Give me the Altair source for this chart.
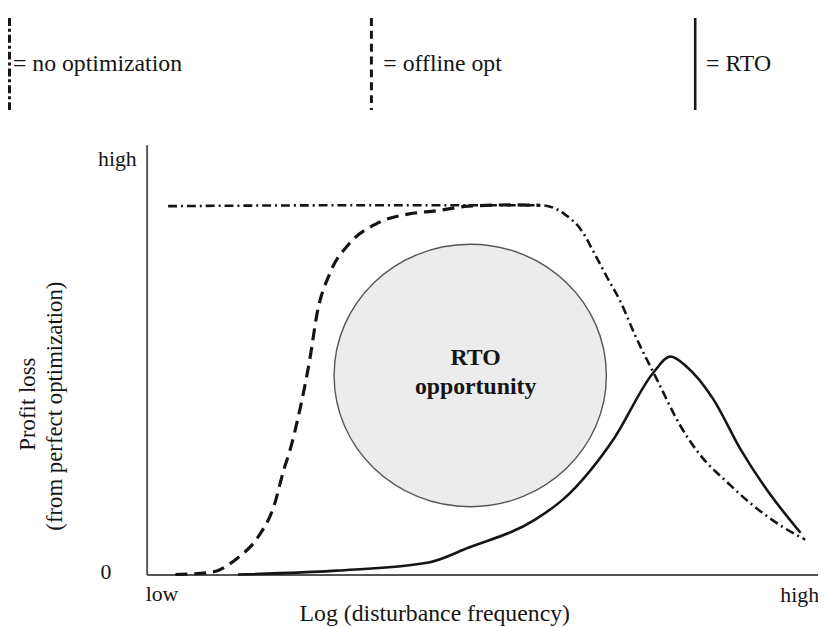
import altair as alt
import pandas as pd

# ---- data (x: log disturbance frequency 0..100, y: profit loss 0..100) ----
noopt_x = [3.2, 30.0, 50.0, 58.9, 62.2, 64.8, 66.7, 68.6, 70.7, 72.6, 76.0, 79.5, 82.5, 86.3, 90.3, 94.3, 98.1]
noopt_y = [85.7, 85.9, 85.9, 85.9, 83.9, 80.0, 74.7, 69.1, 63.1, 56.2, 45.4, 34.6, 27.7, 21.7, 16.1, 11.5, 8.1]

offline_x = [4.3, 9.6, 13.6, 16.5, 19.0, 20.5, 21.2, 22.9, 24.3, 25.4, 27.3, 30.2, 34.2, 39.1, 43.1, 47.9, 54.9, 58.6]
offline_y = [0.0, 0.5, 3.9, 8.5, 16.1, 24.7, 28.1, 38.9, 50.0, 60.8, 70.1, 77.0, 81.6, 83.9, 84.6, 85.7, 86.0, 85.9]

rto_x = [13.6, 28.3, 42.0, 47.9, 57.8, 62.2, 69.6, 75.5, 78.0, 80.4, 84.4, 88.4, 92.2, 97.4]
rto_y = [0.0, 0.9, 2.8, 6.2, 12.7, 17.7, 31.6, 47.0, 50.7, 48.4, 40.8, 29.3, 20.1, 9.7]

circle_x = [48.2]
circle_y = [46.3]
circle_label = ["RTO", "opportunity"]
circle_label_x = [49.0, 49.0]
circle_label_y = [50.4, 43.6]

legend_labels = ["= no optimization", "= offline opt", "= RTO"]
axis_labels = {"y_high": "high", "y_zero": "0", "x_low": "low", "x_high": "high"}
x_title = "Log (disturbance frequency)"
y_title = ["Profit loss", "(from perfect optimization)"]

FONT = "Liberation Serif"
INK = "#151515"
FS = 24

W, H = 678, 434
xs = alt.Scale(domain=[0, 100], nice=False, zero=False)
ys = alt.Scale(domain=[0, 100], nice=False, zero=False)
ax = alt.Axis(labels=False, ticks=False, grid=False, domainColor="#555555", domainWidth=2)

one = pd.DataFrame({"k": [0]})

def enc(ch):
    return ch.encode(x=alt.X("x:Q", scale=xs, axis=ax, title=""),
                     y=alt.Y("y:Q", scale=ys, axis=ax, title=""))

def curve(xv, yv, dash, width):
    df = pd.DataFrame({"x": xv, "y": yv})
    kw = dict(interpolate="monotone", color=INK, strokeWidth=width)
    if dash:
        kw["strokeDash"] = dash
    return enc(alt.Chart(df).mark_line(**kw))

ELLIPSE = "M -1 0 A 1 0.964 0 1 0 1 0 A 1 0.964 0 1 0 -1 0 Z"
circle = enc(alt.Chart(pd.DataFrame({"x": circle_x, "y": circle_y})).mark_point(
    shape=ELLIPSE, size=75625, fill="#ececec", stroke="#555555", strokeWidth=1.4,
    fillOpacity=1, strokeOpacity=1, opacity=1
))

circle_text = alt.Chart(pd.DataFrame({"x": circle_label_x, "y": circle_label_y,
                                      "t": circle_label})).mark_text(
    font=FONT, fontSize=24, fontWeight="bold", color=INK, align="center", baseline="middle"
).encode(x=alt.X("x:Q", scale=xs), y=alt.Y("y:Q", scale=ys), text="t:N")

def txt(s, x, y, align="left", angle=0, baseline="middle", size=FS):
    kw = dict(font=FONT, fontSize=size, color=INK, align=align, baseline=baseline)
    if angle:
        kw["angle"] = angle
    return alt.Chart(one).mark_text(**kw).encode(x=alt.value(x), y=alt.value(y), text=alt.value(s))

def vrule(x, dash, width):
    kw = dict(color=INK, strokeWidth=width)
    if dash:
        kw["strokeDash"] = dash
    return alt.Chart(one).mark_rule(**kw).encode(x=alt.value(x), y=alt.value(-128), y2=alt.value(-35))

DASHDOT = [9, 4, 2, 4]
DASHED = [12, 7]
LEG_DASHDOT = [8, 3, 3, 3]
LEG_DASHED = [8, 5]

layers = [
    circle,
    circle_text,
    curve(noopt_x, noopt_y, DASHDOT, 2.6),
    curve(offline_x, offline_y, DASHED, 3.2),
    curve(rto_x, rto_y, None, 2.6),
    vrule(-138.5, LEG_DASHDOT, 3),
    vrule(227, LEG_DASHED, 3),
    vrule(554, None, 2.6),
    txt(legend_labels[0], -135, -81),
    txt(legend_labels[1], 239, -81),
    txt(legend_labels[2], 565, -81),
    txt(axis_labels["y_high"], -10, 15, align="right", size=22),
    txt(axis_labels["y_zero"], -41, 432, align="center", size=22),
    txt(axis_labels["x_low"], -1, 454, size=22),
    txt(axis_labels["x_high"], 640, 455, size=22),
    txt(x_title, 291, 474, align="center"),
    txt(y_title[0], -113, 262, align="center", angle=270, baseline="alphabetic", size=23),
    txt(y_title[1], -85, 264, align="center", angle=270, baseline="alphabetic", size=23),
]

chart = alt.layer(*layers).properties(
    width=W, height=H,
    autosize=alt.AutoSizeParams(type="none"),
    padding={"left": 140, "top": 135, "right": 0, "bottom": 50},
    background="white",
).configure_view(stroke=None)

chart.save("out.html", embed_options={"renderer": "svg", "actions": False})
